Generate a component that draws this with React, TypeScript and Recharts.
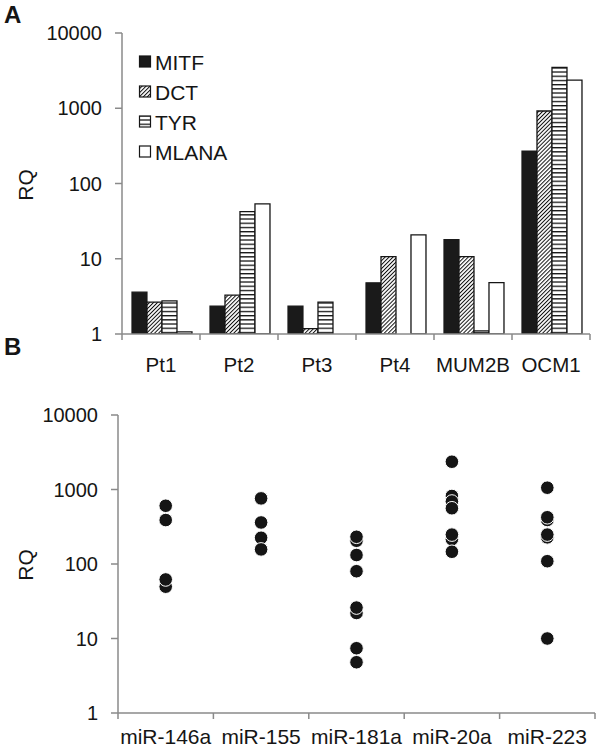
import React from 'react';
import { BarChart, Bar, XAxis, YAxis, ScatterChart, Scatter, Legend } from 'recharts';

// Panel A data
const samples = ['Pt1', 'Pt2', 'Pt3', 'Pt4', 'MUM2B', 'OCM1'];
const genes = ['MITF', 'DCT', 'TYR', 'MLANA'];
const MITF = [3.6, 2.35, 2.35, 4.8, 17.9, 270];
const DCT = [2.65, 3.28, 1.18, 10.7, 10.7, 920];
const TYR = [2.75, 42.4, 2.65, 1.0, 1.1, 3480];
const MLANA = [1.07, 53.6, 1.0, 20.7, 4.83, 2360];
const rqTicks = [1, 10, 100, 1000, 10000];

// Panel B data
const mirnas = ['miR-146a', 'miR-155', 'miR-181a', 'miR-20a', 'miR-223'];
const miR146a = [49.6, 62, 389, 605];
const miR155 = [225, 157, 361, 760];
const miR181a = [205, 232, 132, 80, 22, 26, 7.4, 4.8];
const miR20a = [2360, 818, 690, 560, 215, 248, 146];
const miR223 = [1057, 390, 424, 228, 248, 109, 10];
const mirValues = [miR146a, miR155, miR181a, miR20a, miR223];

const barData = samples.map((s, i) => ({ sample: s, MITF: MITF[i], DCT: DCT[i], TYR: TYR[i], MLANA: MLANA[i] }));
const scatterData = mirnas.flatMap((cat, i) => mirValues[i].map((v) => ({ cat, v })));

const FONT = '"Liberation Sans", Arial, Helvetica, sans-serif';
const AXIS = '#8a8a8a';
const INK = '#151515';

const makeXTick = (band: number, count: number, labelDy: number, fontSize: number) => (props: any) => {
  const { x, y, payload, index } = props;
  const l = x - band / 2;
  const r = x + band / 2;
  return (
    <g>
      <line x1={l} y1={y} x2={l} y2={y + 6} stroke={AXIS} strokeWidth={1.5} />
      {index === count - 1 && <line x1={r} y1={y} x2={r} y2={y + 6} stroke={AXIS} strokeWidth={1.5} />}
      <text x={x} y={y + labelDy} textAnchor="middle" fontSize={fontSize} fill={INK} fontFamily={FONT}>
        {payload.value}
      </text>
    </g>
  );
};

const LegendContent = (props: any) => {
  const payload = [...(props.payload || [])].sort(
    (a: any, b: any) => genes.indexOf(a.value) - genes.indexOf(b.value)
  );
  return (
    <svg width={130} height={125} style={{ overflow: 'visible' }}>
      {payload.map((e: any, i: number) => (
        <g key={e.value}>
          <rect x={3.5} y={8 + i * 30} width={11} height={11} fill={e.color} stroke={INK} strokeWidth={1.2} />
          <text x={19} y={21.5 + i * 30} fontSize={21} fill={INK} fontFamily={FONT}>
            {e.value}
          </text>
        </g>
      ))}
    </svg>
  );
};

const Dot = (props: any) => {
  const { cx, cy } = props;
  if (cx == null || cy == null) return null;
  return <circle cx={cx} cy={cy} r={6.8} fill={INK} stroke="#fff" strokeWidth={1} />;
};

const fmt = (v: number) => String(v);

export default function App() {
  return (
    <div style={{ position: 'absolute', left: 0, top: 0, width: 599, height: 750, fontFamily: FONT, background: '#fff' }}>
      <div style={{ position: 'absolute', left: 0, top: 0 }}>
        <BarChart
          width={599}
          height={380}
          data={barData}
          margin={{ top: 33, right: 9, left: 42, bottom: 0 }}
          barCategoryGap="12.8%"
          barGap={0}
        >
          <defs>
            <pattern id="hatchDiag" patternUnits="userSpaceOnUse" width={2.8} height={2.8} patternTransform="rotate(45)">
              <rect width={2.8} height={2.8} fill="#fff" />
              <line x1={0.5} y1={0} x2={0.5} y2={2.8} stroke="#111" strokeWidth={1} />
            </pattern>
            <pattern id="hatchHoriz" patternUnits="userSpaceOnUse" width={4} height={4.2}>
              <rect width={4} height={4.2} fill="#fff" />
              <rect y={0} width={4} height={1.3} fill="#111" />
            </pattern>
          </defs>
          <text x={4} y={23} fontSize={24} fontWeight="bold" fill={INK} fontFamily={FONT}>A</text>
          <text x={25} y={185} fontSize={21} fill={INK} fontFamily={FONT} textAnchor="middle" dominantBaseline="central" transform="rotate(-90 25 185)">RQ</text>
          <XAxis
            dataKey="sample"
            height={46}
            tickSize={0}
            tickMargin={0}
            interval={0}
            axisLine={{ stroke: AXIS, strokeWidth: 1.5 }}
            tickLine={false}
            tick={makeXTick(78, samples.length, 38, 20.5)}
          />
          <YAxis
            width={80}
            scale="log"
            domain={[1, 10000]}
            allowDataOverflow
            ticks={rqTicks}
            tickFormatter={fmt}
            tickSize={7}
            tickMargin={13}
            axisLine={{ stroke: AXIS, strokeWidth: 1.5 }}
            tickLine={{ stroke: AXIS, strokeWidth: 1.5 }}
            tick={{ fontSize: 20, fill: INK, fontFamily: FONT }}
          />
          <Legend
            layout="vertical"
            align="center"
            verticalAlign="middle"
            content={<LegendContent />}
            wrapperStyle={{ left: 136, top: 48, width: 130, height: 125 }}
          />
          <Bar dataKey="MITF" name="MITF" fill="#1a1a1a" stroke="#1a1a1a" strokeWidth={1.2} isAnimationActive={false} />
          <Bar dataKey="DCT" name="DCT" fill="url(#hatchDiag)" stroke={INK} strokeWidth={1.3} isAnimationActive={false} />
          <Bar dataKey="TYR" name="TYR" fill="url(#hatchHoriz)" stroke={INK} strokeWidth={1.3} isAnimationActive={false} />
          <Bar dataKey="MLANA" name="MLANA" fill="#fff" stroke={INK} strokeWidth={1.3} isAnimationActive={false} />
        </BarChart>
      </div>
      <div style={{ position: 'absolute', left: 0, top: 330 }}>
        <ScatterChart width={599} height={420} margin={{ top: 85, right: 4, left: 38, bottom: 0 }}>
          <text x={4} y={25} fontSize={24} fontWeight="bold" fill={INK} fontFamily={FONT}>B</text>
          <text x={25} y={235} fontSize={21} fill={INK} fontFamily={FONT} textAnchor="middle" dominantBaseline="central" transform="rotate(-90 25 235)">RQ</text>
          <XAxis
            dataKey="cat"
            type="category"
            allowDuplicatedCategory={false}
            height={37}
            tickSize={0}
            tickMargin={0}
            interval={0}
            axisLine={{ stroke: AXIS, strokeWidth: 1.5 }}
            tickLine={false}
            tick={makeXTick(95.4, mirnas.length, 31, 21)}
          />
          <YAxis
            dataKey="v"
            type="number"
            width={80}
            scale="log"
            domain={[1, 10000]}
            allowDataOverflow
            ticks={rqTicks}
            tickFormatter={fmt}
            tickSize={7}
            tickMargin={13}
            axisLine={{ stroke: AXIS, strokeWidth: 1.5 }}
            tickLine={{ stroke: AXIS, strokeWidth: 1.5 }}
            tick={{ fontSize: 20, fill: INK, fontFamily: FONT }}
          />
          <Scatter data={scatterData} dataKey="v" shape={<Dot />} isAnimationActive={false} />
        </ScatterChart>
      </div>
    </div>
  );
}
